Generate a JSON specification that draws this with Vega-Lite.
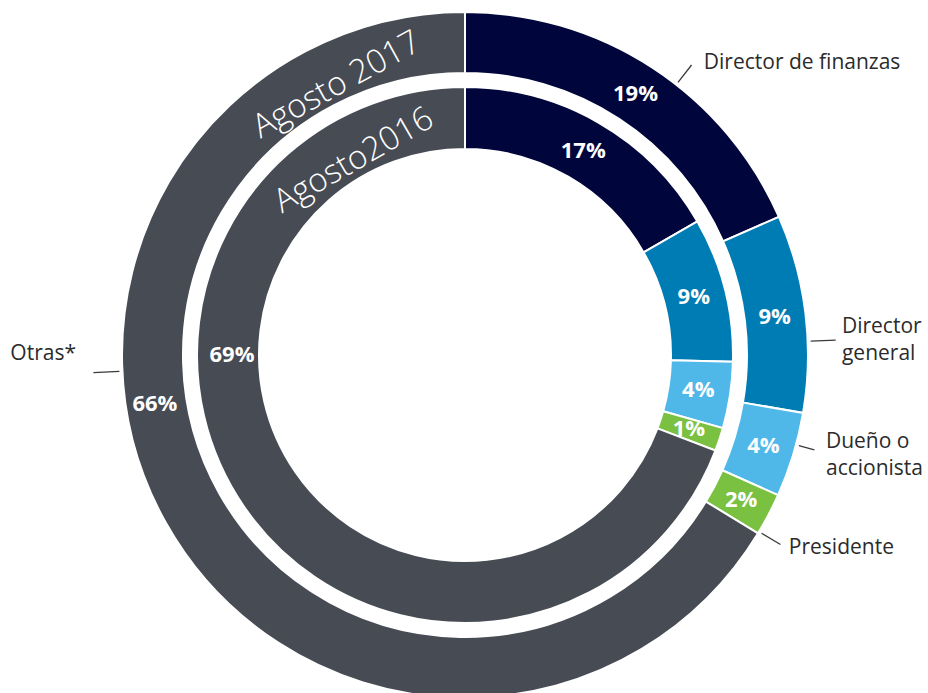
{
  "$schema": "https://vega.github.io/schema/vega-lite/v6.json",
  "width": 930,
  "height": 710,
  "autosize": {"type": "none"},
  "padding": 0,
  "background": "#ffffff",
  "config": {"view": {"stroke": null}, "text": {"font": "Open Sans"}},
  "data": {
    "values": [
      {"periodo": "Agosto 2017", "n": 1, "cat": "Director de finanzas", "value": 18.4, "pct": "19%"},
      {"periodo": "Agosto 2017", "n": 2, "cat": "Director\ngeneral", "value": 9.3, "pct": "9%"},
      {"periodo": "Agosto 2017", "n": 3, "cat": "Dueño o\naccionista", "value": 4.0, "pct": "4%"},
      {"periodo": "Agosto 2017", "n": 4, "cat": "Presidente", "value": 2.0, "pct": "2%"},
      {"periodo": "Agosto 2017", "n": 5, "cat": "Otras*", "value": 66.3, "pct": "66%"},
      {"periodo": "Agosto2016", "n": 1, "cat": "Director de finanzas", "value": 16.7, "pct": "17%"},
      {"periodo": "Agosto2016", "n": 2, "cat": "Director\ngeneral", "value": 8.7, "pct": "9%"},
      {"periodo": "Agosto2016", "n": 3, "cat": "Dueño o\naccionista", "value": 4.0, "pct": "4%"},
      {"periodo": "Agosto2016", "n": 4, "cat": "Presidente", "value": 1.4, "pct": "1%"},
      {"periodo": "Agosto2016", "n": 5, "cat": "Otras*", "value": 69.2, "pct": "69%"}
    ]
  },
  "encoding": {
    "theta": {"field": "value", "type": "quantitative", "stack": true, "scale": {"domain": [0, 100], "range": [0, 6.283185307]}},
    "order": {"field": "n", "type": "quantitative"},
    "detail": {"field": "cat", "type": "nominal"}
  },
  "layer": [
    {
      "transform": [{"filter": "datum.periodo === 'Agosto 2017'"}],
      "layer": [
        {
          "mark": {"type": "arc", "radius": 343, "radius2": 282, "stroke": "#ffffff", "strokeWidth": 2},
          "encoding": {
            "color": {"field": "cat", "type": "nominal", "legend": null,
              "scale": {"domain": ["Director de finanzas", "Director\ngeneral", "Dueño o\naccionista", "Presidente", "Otras*"],
                        "range": ["#00063b", "#007cb4", "#4fb8e8", "#7ac142", "#474b54"]}}
          }
        },
        {
          "mark": {"type": "text", "radius": 312, "fontSize": 22, "fontWeight": "bold", "fill": "#ffffff"},
          "encoding": {"text": {"condition": {"test": "datum.n < 5", "field": "pct", "type": "nominal"}, "value": ""}}
        },
        {
          "mark": {"type": "text", "radius": 314, "thetaOffset": 0.355, "fontSize": 22, "fontWeight": "bold", "fill": "#ffffff"},
          "encoding": {"text": {"condition": {"test": "datum.n === 5", "field": "pct", "type": "nominal"}, "value": ""}}
        },
        {
          "mark": {"type": "text", "radius": 299, "thetaOffset": 1.64, "angle": 331, "fontSize": 33, "fontWeight": 300, "fill": "#ffffff"},
          "encoding": {"text": {"condition": {"test": "datum.n === 5", "field": "periodo", "type": "nominal"}, "value": ""}}
        },
        {
          "transform": [{"stack": "value", "groupby": ["periodo"], "sort": [{"field": "n", "order": "ascending"}], "as": ["v0", "v1"]}],
          "layer": [
            {
              "mark": {"type": "arc", "radius": 368, "radius2": 346, "thetaOffset": 0.6632, "theta2Offset": 0.6632, "fill": null, "stroke": "#3a3a3a", "strokeWidth": 1.3},
              "encoding": {"opacity": {"condition": {"test": "datum.n === 1", "value": 1}, "value": 0}}
            },
            {
              "mark": {"type": "arc", "radius": 371, "radius2": 346, "thetaOffset": 0.3745, "theta2Offset": 0.3745, "fill": null, "stroke": "#3a3a3a", "strokeWidth": 1.3},
              "encoding": {"opacity": {"condition": {"test": "datum.n === 2", "value": 1}, "value": 0}}
            },
            {
              "mark": {"type": "arc", "radius": 362, "radius2": 346, "thetaOffset": 0.0956, "theta2Offset": 0.0956, "fill": null, "stroke": "#3a3a3a", "strokeWidth": 1.3},
              "encoding": {"opacity": {"condition": {"test": "datum.n === 3", "value": 1}, "value": 0}}
            },
            {
              "mark": {"type": "arc", "radius": 368, "radius2": 346, "thetaOffset": 0.1201, "theta2Offset": 0.1201, "fill": null, "stroke": "#3a3a3a", "strokeWidth": 1.3},
              "encoding": {"opacity": {"condition": {"test": "datum.n === 4", "value": 1}, "value": 0}}
            },
            {
              "mark": {"type": "arc", "radius": 372, "radius2": 346, "thetaOffset": 2.5478, "theta2Offset": 2.5478, "fill": null, "stroke": "#3a3a3a", "strokeWidth": 1.3},
              "encoding": {"opacity": {"condition": {"test": "datum.n === 5", "value": 1}, "value": 0}}
            }
          ],
          "encoding": {
            "theta": {"field": "v0", "type": "quantitative", "stack": null, "scale": {"domain": [0, 100], "range": [0, 6.283185307]}},
            "theta2": {"field": "v0"}
          }
        },
        {
          "mark": {"type": "text", "radius": 377, "thetaOffset": 0.108, "align": "left", "baseline": "middle", "fontSize": 21, "fill": "#2b2b2b"},
          "encoding": {"text": {"condition": {"test": "datum.n === 1", "field": "cat", "type": "nominal"}, "value": ""}}
        },
        {
          "mark": {"type": "text", "radius": 378, "thetaOffset": 0.0483, "align": "left", "baseline": "middle", "fontSize": 21, "lineBreak": "\n", "lineHeight": 27.5, "fill": "#2b2b2b"},
          "encoding": {"text": {"condition": {"test": "datum.n === 2", "field": "cat", "type": "nominal"}, "value": ""}}
        },
        {
          "mark": {"type": "text", "radius": 371.3, "thetaOffset": -0.0588, "align": "left", "baseline": "middle", "fontSize": 21, "lineBreak": "\n", "lineHeight": 27.5, "fill": "#2b2b2b"},
          "encoding": {"text": {"condition": {"test": "datum.n === 3", "field": "cat", "type": "nominal"}, "value": ""}}
        },
        {
          "mark": {"type": "text", "radius": 377, "thetaOffset": 0.0538, "align": "left", "baseline": "middle", "fontSize": 21, "fill": "#2b2b2b"},
          "encoding": {"text": {"condition": {"test": "datum.n === 4", "field": "cat", "type": "nominal"}, "value": ""}}
        },
        {
          "mark": {"type": "text", "radius": 389, "thetaOffset": 0.5147, "align": "right", "baseline": "middle", "fontSize": 21, "fill": "#2b2b2b"},
          "encoding": {"text": {"condition": {"test": "datum.n === 5", "field": "cat", "type": "nominal"}, "value": ""}}
        }
      ]
    },
    {
      "transform": [{"filter": "datum.periodo === 'Agosto2016'"}],
      "layer": [
        {
          "mark": {"type": "arc", "radius": 268, "radius2": 206, "stroke": "#ffffff", "strokeWidth": 2},
          "encoding": {
            "color": {"field": "cat", "type": "nominal", "legend": null}
          }
        },
        {
          "mark": {"type": "text", "radius": 236, "fontSize": 22, "fontWeight": "bold", "fill": "#ffffff"},
          "encoding": {"text": {"condition": {"test": "datum.n < 5", "field": "pct", "type": "nominal"}, "value": ""}}
        },
        {
          "mark": {"type": "text", "radius": 233, "thetaOffset": 0.603, "fontSize": 22, "fontWeight": "bold", "fill": "#ffffff"},
          "encoding": {"text": {"condition": {"test": "datum.n === 5", "field": "pct", "type": "nominal"}, "value": ""}}
        },
        {
          "mark": {"type": "text", "radius": 224, "thetaOffset": 1.655, "angle": 330, "fontSize": 33, "fontWeight": 300, "fill": "#ffffff"},
          "encoding": {"text": {"condition": {"test": "datum.n === 5", "field": "periodo", "type": "nominal"}, "value": ""}}
        }
      ]
    }
  ]
}
